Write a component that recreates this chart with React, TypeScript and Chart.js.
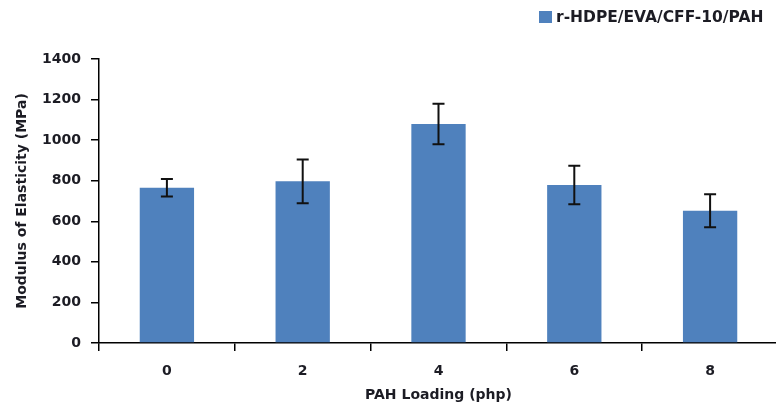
import React, { useEffect, useRef } from "react";
import { Chart, registerables } from "chart.js";

Chart.register(...registerables);

const categories = ["0", "2", "4", "6", "8"];
const modulusValues = [765, 797, 1080, 779, 652];
const modulusErrors = [43, 108, 100, 95, 81];
const yTicksMax = 1400;
const yTicksStep = 200;
const seriesLabel = "r-HDPE/EVA/CFF-10/PAH";
const xTitle = "PAH Loading (php)";
const yTitle = "Modulus of Elasticity (MPa)";

const BAR_COLOR = "#4F81BD";
const TEXT_COLOR = "#1c1c24";
const FONT = "'DejaVu Sans', sans-serif";

const errorBarPlugin = {
  id: "errorBars",
  afterDatasetsDraw(chart: any) {
    const { ctx } = chart;
    const yScale = chart.scales.y;
    chart.data.datasets.forEach((ds: any, di: number) => {
      const meta = chart.getDatasetMeta(di);
      const errs: number[] = ds.errors || [];
      meta.data.forEach((bar: any, i: number) => {
        const v = ds.data[i];
        const e = errs[i];
        if (e == null) return;
        const x = bar.x;
        const yTop = yScale.getPixelForValue(v + e);
        const yBot = yScale.getPixelForValue(v - e);
        const cap = 6;
        ctx.save();
        ctx.strokeStyle = "#111";
        ctx.lineWidth = 2;
        ctx.beginPath();
        ctx.moveTo(x, yTop);
        ctx.lineTo(x, yBot);
        ctx.moveTo(x - cap, yTop);
        ctx.lineTo(x + cap, yTop);
        ctx.moveTo(x - cap, yBot);
        ctx.lineTo(x + cap, yBot);
        ctx.stroke();
        ctx.restore();
      });
    });
  },
};

const legendPlugin = {
  id: "customLegend",
  afterDraw(chart: any) {
    const { ctx } = chart;
    chart.data.datasets.forEach((ds: any) => {
      ctx.save();
      ctx.fillStyle = ds.backgroundColor;
      ctx.fillRect(539, 11, 13, 12);
      ctx.fillStyle = TEXT_COLOR;
      ctx.font = `bold 15.5px ${FONT}`;
      ctx.textBaseline = "middle";
      ctx.textAlign = "left";
      ctx.fillText(ds.label, 556, 17.5);
      ctx.restore();
    });
  },
};

export default function App() {
  const canvasRef = useRef<HTMLCanvasElement | null>(null);

  useEffect(() => {
    const canvas = canvasRef.current;
    if (!canvas) return;
    const chart = new Chart(canvas, {
      type: "bar",
      data: {
        labels: categories,
        datasets: [
          {
            label: seriesLabel,
            data: modulusValues,
            errors: modulusErrors,
            backgroundColor: BAR_COLOR,
            borderWidth: 0,
            barPercentage: 0.4,
            categoryPercentage: 1,
          } as any,
        ],
      },
      options: {
        animation: false,
        responsive: false,
        devicePixelRatio: 1,
        layout: { padding: { top: 59, left: 0, right: 2, bottom: 0 } },
        plugins: {
          legend: { display: false },
          tooltip: { enabled: false },
        },
        scales: {
          x: {
            offset: true,
            grid: {
              display: true,
              offset: true,
              drawOnChartArea: false,
              drawTicks: true,
              tickLength: 8,
              color: "#000",
              lineWidth: 1.5,
            },
            border: { display: true, color: "#000", width: 1.5 },
            ticks: {
              color: TEXT_COLOR,
              font: { family: FONT, size: 14, weight: "bold" },
              padding: 12,
            },
            title: {
              display: true,
              text: xTitle,
              color: TEXT_COLOR,
              font: { family: FONT, size: 14, weight: "bold" },
              padding: { top: 0, bottom: 10 },
            },
            afterFit(scale: any) {
              scale.height = 71;
            },
          },
          y: {
            min: 0,
            max: yTicksMax,
            grid: {
              display: true,
              drawOnChartArea: false,
              drawTicks: true,
              tickLength: 8,
              color: "#000",
              lineWidth: 1.5,
            },
            border: { display: true, color: "#000", width: 1.5 },
            ticks: {
              stepSize: yTicksStep,
              color: TEXT_COLOR,
              font: { family: FONT, size: 14, weight: "bold" },
              padding: 10,
              callback: (value: any) => String(value),
            },
            title: {
              display: true,
              text: yTitle,
              color: TEXT_COLOR,
              font: { family: FONT, size: 14, weight: "bold" },
              padding: { top: 14, bottom: 0 },
            },
            afterFit(scale: any) {
              scale.width = 99;
            },
          },
        },
      },
      plugins: [errorBarPlugin, legendPlugin],
    } as any);
    return () => chart.destroy();
  }, []);

  return (
    <div
      style={{
        position: "fixed",
        left: 0,
        top: 0,
        width: 776,
        height: 414,
        overflow: "hidden",
        background: "#fff",
      }}
    >
      <canvas ref={canvasRef} width={780} height={414} style={{ display: "block" }} />
    </div>
  );
}
